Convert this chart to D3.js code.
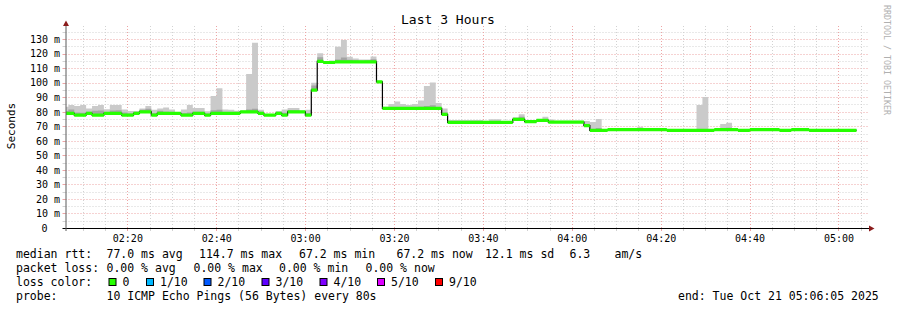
<!DOCTYPE html>
<html>
<head>
<meta charset="utf-8">
<script src="https://cdn.jsdelivr.net/npm/d3@7"></script>
<style>
  html, body { margin: 0; padding: 0; background: #fff; }
  svg { display: block; }
  text { font-family: "DejaVu Sans Mono", monospace; fill: #000; white-space: pre; }
</style>
</head>
<body>
<svg id="chart" width="897" height="310"></svg>
<script>
// SmokePing style latency graph, last 3 hours, 80s steps

// bucket starts: first bucket begins 02:05:23, one bucket every 80 s
const firstBucket = new Date(2025, 9, 21, 2, 5, 23, 400);
const stepSeconds = 80;

// median rtt per bucket (ms)
const median = [
  78.9, 78.9, 77.7, 77.7, 78.9, 77.7, 77.7, 78.9, 78.9, 78.9,
  77.7, 77.7, 78.9, 79.9, 79.9, 77.7, 78.9, 78.9, 78.9, 78.9,
  77.7, 77.7, 78.9, 78.9, 77.7, 78.9, 78.9, 78.9, 78.9, 78.9,
  79.9, 79.9, 79.9, 78.9, 77.7, 77.7, 78.9, 77.7, 79.9, 79.9,
  79.9, 77.7, 94.9, 114.7, 113.9, 113.9, 114.3, 114.3, 114.3, 114.3,
  114.3, 114.3, 114.3, 100.6, 82.3, 82.3, 82.3, 82.3, 82.3, 82.3,
  82.3, 82.3, 82.3, 82.3, 78.2, 72.7, 72.7, 72.7, 72.7, 72.7,
  72.7, 72.7, 72.7, 72.7, 72.7, 72.7, 74.8, 74.8, 73.2, 73.2,
  74.0, 74.0, 72.9, 72.9, 72.9, 72.9, 72.9, 72.9, 70.4, 67.2,
  67.2, 67.2, 67.7, 67.7, 67.7, 67.7, 67.7, 67.7, 67.7, 67.7,
  67.7, 67.7, 67.2, 67.2, 67.2, 67.2, 67.2, 67.2, 67.2, 67.2,
  67.7, 67.7, 67.7, 67.7, 67.2, 67.2, 67.7, 67.7, 67.7, 67.7,
  67.7, 67.2, 67.2, 67.7, 67.7, 67.7, 67.2, 67.2, 67.2, 67.2,
  67.2, 67.2, 67.2, 67.2
];

// slowest ping of the 10 (top of the light smoke)
const ping10 = [
  83.5, 84.6, 83.9, 84.6, 82.3, 83.9, 84.6, 81.8, 84.6, 84.6,
  81.6, 80.5, 80.5, 82.3, 83.9, 81.3, 82.3, 83.0, 81.6, 79.8,
  81.6, 84.6, 82.5, 82.5, 80.3, 90.8, 96.1, 81.6, 81.3, 80.7,
  80.9, 105.9, 127.5, 81.3, 78.5, 78.5, 80.5, 81.6, 82.5, 82.5,
  80.9, 81.3, 100.0, 120.3, 115.0, 115.3, 124.7, 129.3, 117.8, 116.7,
  116.0, 116.0, 118.0, 101.3, 83.5, 85.4, 87.0, 85.4, 84.6, 85.4,
  87.7, 97.7, 100.2, 86.0, 82.3, 74.4, 74.4, 74.4, 74.4, 74.4,
  74.4, 73.8, 74.8, 74.8, 73.4, 73.4, 76.2, 78.2, 73.8, 73.8,
  74.6, 76.6, 74.6, 73.8, 73.8, 73.8, 73.8, 73.8, 73.6, 72.9,
  75.0, 68.2, 68.2, 68.2, 68.2, 68.2, 68.2, 69.7, 68.6, 68.2,
  68.6, 68.0, 68.0, 67.9, 67.8, 68.2, 68.2, 84.6, 90.1, 68.2,
  68.2, 71.5, 72.4, 68.0, 68.0, 68.0, 68.0, 68.0, 68.8, 68.8,
  67.9, 67.9, 67.9, 67.9, 67.9, 67.9, 67.9, 67.9, 67.9, 67.9,
  67.9, 67.9, 67.9, 67.9
];

// second slowest ping (top of the darker smoke)
const ping9 = [
  80.5, 81.5, 79.5, 79.3, 80.0, 80.7, 80.8, 79.8, 80.8, 81.0,
  79.5, 78.8, 79.6, 81.3, 82.0, 79.0, 80.7, 80.0, 79.8, 79.5,
  79.0, 79.5, 80.0, 80.0, 78.7, 81.0, 81.3, 79.8, 79.5, 79.5,
  80.5, 81.5, 82.0, 80.0, 78.3, 78.3, 79.5, 79.3, 81.0, 81.0,
  80.5, 79.0, 98.0, 117.5, 114.6, 114.6, 116.0, 117.3, 115.8, 115.3,
  115.0, 115.2, 116.2, 101.0, 83.0, 83.0, 83.2, 83.0, 83.0, 83.0,
  83.5, 84.0, 84.5, 83.0, 79.5, 73.2, 73.2, 73.2, 73.2, 73.2,
  73.2, 73.2, 73.3, 73.3, 73.2, 73.2, 75.3, 76.5, 73.5, 73.5,
  74.3, 75.0, 73.3, 73.3, 73.3, 73.3, 73.3, 73.3, 71.3, 68.2,
  68.8, 67.8, 68.0, 68.0, 68.0, 68.0, 68.0, 68.2, 68.0, 68.0,
  68.0, 68.0, 67.6, 67.6, 67.6, 67.6, 67.6, 68.0, 68.2, 67.6,
  68.0, 68.5, 69.0, 68.0, 67.6, 67.6, 68.0, 68.0, 68.0, 68.0,
  68.0, 67.6, 67.6, 68.0, 68.0, 68.0, 67.6, 67.6, 67.6, 67.6,
  67.6, 67.6, 67.6, 67.6
];

const lossLevels = ["0", "1/10", "2/10", "3/10", "4/10", "5/10", "9/10"];
const lossColors = ["#26ff00", "#00b8ff", "#0059ff", "#5e00ff", "#7e00ff", "#dd00ff", "#ff0000"];
const lossLegendX = [108.5, 146, 203.5, 261.5, 319.5, 377, 435];

const statsRow = [
  { x: 106.5, text: "77.0 ms avg" },
  { x: 199, text: "114.7 ms max" },
  { x: 299, text: "67.2 ms min" },
  { x: 396.5, text: "67.2 ms now" },
  { x: 485, text: "12.1 ms sd" },
  { x: 569.5, text: "6.3" },
  { x: 614.5, text: "am/s" },
];
const lossRow = [
  { x: 106.5, text: "0.00 % avg" },
  { x: 193.5, text: "0.00 % max" },
  { x: 279, text: "0.00 % min" },
  { x: 365.5, text: "0.00 % now" },
];

const CONFIG = {
  left: 65.5,
  right: 865.5,
  top: 26,
  bottom: 228,
  yMax: 139,
  majorGrid: "#eda5a5",
  minorGrid: "#d2d2d2",
  arrow: "#8b1c1c",
};

const svg = d3.select("#chart");
svg.append("rect").attr("width", 897).attr("height", 310).attr("fill", "#fff");

const start = new Date(2025, 9, 21, 2, 6, 5);
const end = new Date(2025, 9, 21, 5, 6, 5);

const x = d3.scaleTime().domain([start, end]).range([CONFIG.left, CONFIG.right]);
const y = d3.scaleLinear().domain([0, CONFIG.yMax]).range([CONFIG.bottom, CONFIG.top]);

const buckets = median.map((m, i) => ({
  t: new Date(firstBucket.getTime() + i * stepSeconds * 1000),
  median: m,
  p9: ping9[i],
  p10: ping10[i],
}));
// closing point so the last step has a width
const last = buckets[buckets.length - 1];
buckets.push({ ...last, t: new Date(last.t.getTime() + stepSeconds * 1000) });

// Grid
const grid = svg.append("g");
const yTicks = d3.range(5, CONFIG.yMax, 5);
yTicks.forEach(v => {
  const major = v % 10 === 0;
  const yy = Math.round(y(v)) + 0.5;
  grid.append("line")
    .attr("x1", CONFIG.left).attr("x2", CONFIG.right + 3)
    .attr("y1", yy).attr("y2", yy)
    .attr("stroke", major ? CONFIG.majorGrid : CONFIG.minorGrid)
    .attr("stroke-dasharray", "1,2");
  grid.append("line")
    .attr("x1", CONFIG.left - 3).attr("x2", CONFIG.left)
    .attr("y1", yy).attr("y2", yy)
    .attr("stroke", major ? CONFIG.majorGrid : CONFIG.minorGrid);
});

x.ticks(d3.timeMinute.every(5)).forEach(t => {
  const major = t.getMinutes() % 20 === 0;
  const xx = Math.round(x(t)) + 0.5;
  grid.append("line")
    .attr("x1", xx).attr("x2", xx)
    .attr("y1", CONFIG.top).attr("y2", CONFIG.bottom)
    .attr("stroke", major ? CONFIG.majorGrid : CONFIG.minorGrid)
    .attr("stroke-dasharray", "1,2");
  grid.append("line")
    .attr("x1", xx).attr("x2", xx)
    .attr("y1", CONFIG.bottom).attr("y2", CONFIG.bottom + 3)
    .attr("stroke", major ? CONFIG.majorGrid : CONFIG.minorGrid);
});

// Data layers, clipped to the plot
svg.append("clipPath").attr("id", "plot")
  .append("rect")
  .attr("x", CONFIG.left + 0.5).attr("y", CONFIG.top)
  .attr("width", CONFIG.right - CONFIG.left).attr("height", CONFIG.bottom - CONFIG.top);

const plot = svg.append("g").attr("clip-path", "url(#plot)");

const smokeOuter = d3.area()
  .curve(d3.curveStepAfter)
  .x(d => x(d.t))
  .y0(d => y(d.median))
  .y1(d => y(d.p10));

const smokeInner = d3.area()
  .curve(d3.curveStepAfter)
  .x(d => x(d.t))
  .y0(d => y(d.median))
  .y1(d => y(Math.max(d.p9, d.median)));

plot.append("path").datum(buckets).attr("d", smokeOuter).attr("fill", "#cacaca");
plot.append("path").datum(buckets).attr("d", smokeInner).attr("fill", "#a4a4a4");

const medianLine = d3.line()
  .curve(d3.curveStepAfter)
  .x(d => x(d.t))
  .y(d => y(d.median));

plot.append("path").datum(buckets)
  .attr("d", medianLine)
  .attr("fill", "none")
  .attr("stroke", "#000")
  .attr("stroke-width", 1.2);

// loss coloured median band (all samples had 0 loss)
const medianBand = d3.area()
  .curve(d3.curveStepAfter)
  .x(d => x(d.t))
  .y0(d => y(d.median) + 1.6)
  .y1(d => y(d.median) - 1.6);

plot.append("path").datum(buckets).attr("d", medianBand).attr("fill", lossColors[0]);

// Axes
svg.append("line")
  .attr("x1", CONFIG.left - 3).attr("x2", CONFIG.right + 4)
  .attr("y1", CONFIG.bottom + 0.5).attr("y2", CONFIG.bottom + 0.5)
  .attr("stroke", "#000");
svg.append("line")
  .attr("x1", CONFIG.left + 0.5).attr("x2", CONFIG.left + 0.5)
  .attr("y1", CONFIG.top - 3).attr("y2", CONFIG.bottom + 3)
  .attr("stroke", "#5a5a5a");
svg.append("path")
  .attr("d", `M${CONFIG.left + 0.5},20.5 L${CONFIG.left + 3.5},26 L${CONFIG.left - 2.5},26 Z`)
  .attr("fill", CONFIG.arrow);
svg.append("path")
  .attr("d", `M874.5,${CONFIG.bottom + 0.5} L869,${CONFIG.bottom - 2.5} L869,${CONFIG.bottom + 3.5} Z`)
  .attr("fill", CONFIG.arrow);

// Tick labels
const yLabels = svg.append("g").style("font-size", "10px");
d3.range(0, CONFIG.yMax, 10).forEach(v => {
  yLabels.append("text")
    .attr("x", v === 0 ? 47.5 : 60)
    .attr("y", y(v) + 3.8)
    .attr("text-anchor", "end")
    .text(v === 0 ? "0" : `${v} m`);
});

const fmt = d3.timeFormat("%H:%M");
const xLabels = svg.append("g").style("font-size", "10px");
x.ticks(d3.timeMinute.every(20)).forEach(t => {
  xLabels.append("text")
    .attr("x", x(t) + 0.5)
    .attr("y", 242)
    .attr("text-anchor", "middle")
    .text(fmt(t));
});

// Title and axis label
svg.append("text")
  .attr("x", 448).attr("y", 24)
  .attr("text-anchor", "middle")
  .style("font-size", "13px")
  .text("Last 3 Hours");

svg.append("text")
  .attr("transform", "translate(15,126) rotate(-90)")
  .attr("text-anchor", "middle")
  .style("font-size", "11px")
  .text("Seconds");

svg.append("text")
  .attr("transform", "translate(884,5) rotate(90)")
  .style("font-size", "8.3px")
  .style("fill", "#b0b0b0")
  .text("RRDTOOL / TOBI OETIKER");

// Legend
const legend = svg.append("g").style("font-size", "11.5px");
const rowY = [258, 272, 286, 300];

legend.append("text").attr("x", 16).attr("y", rowY[0]).text("median rtt:");
statsRow.forEach(d => legend.append("text").attr("x", d.x).attr("y", rowY[0]).text(d.text));

legend.append("text").attr("x", 16).attr("y", rowY[1]).text("packet loss:");
lossRow.forEach(d => legend.append("text").attr("x", d.x).attr("y", rowY[1]).text(d.text));

legend.append("text").attr("x", 16).attr("y", rowY[2]).text("loss color:");
lossLevels.forEach((lvl, i) => {
  legend.append("rect")
    .attr("x", lossLegendX[i] + 0.5).attr("y", 278.5)
    .attr("width", 7).attr("height", 7)
    .attr("fill", lossColors[i])
    .attr("stroke", "#000");
  legend.append("text")
    .attr("x", lossLegendX[i] + 14)
    .attr("y", rowY[2])
    .text(lvl);
});

legend.append("text").attr("x", 16).attr("y", rowY[3]).text("probe:");
legend.append("text").attr("x", 106.5).attr("y", rowY[3])
  .text("10 ICMP Echo Pings (56 Bytes) every 80s");
legend.append("text").attr("x", 678).attr("y", rowY[3])
  .text("end: Tue Oct 21 05:06:05 2025");
</script>
</body>
</html>
